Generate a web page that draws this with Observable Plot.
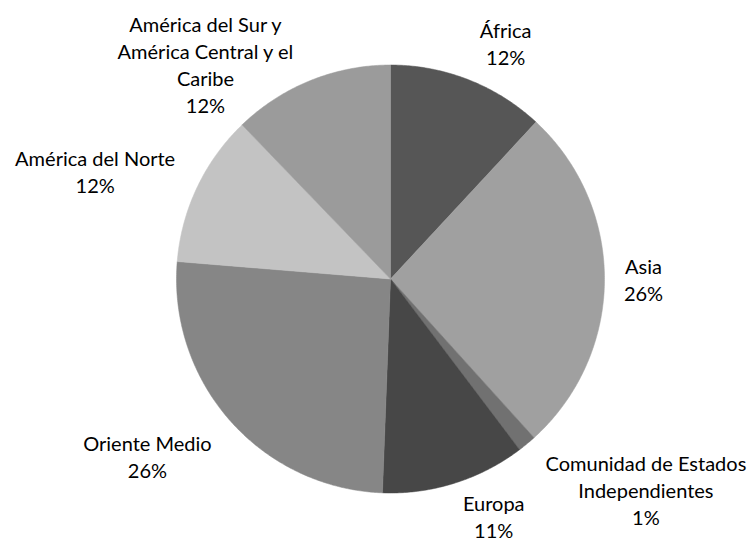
<!DOCTYPE html>
<html>
<head>
<meta charset="utf-8">
<script src="https://cdn.jsdelivr.net/npm/d3@7"></script>
<script src="https://cdn.jsdelivr.net/npm/@observablehq/plot@0.6"></script>
<style>
  html, body { margin: 0; padding: 0; background: #fff; }
  #chart svg { display: block; }
</style>
</head>
<body>
<div id="chart"></div>
<script>
// Data (clockwise from 12 o'clock)
const categories = [
  "África",
  "Asia",
  "Comunidad de Estados\nIndependientes",
  "Europa",
  "Oriente Medio",
  "América del Norte",
  "América del Sur y\nAmérica Central y el\nCaribe"
];
const values = [11.9, 26.4, 1.4, 10.9, 25.7, 11.5, 12.2];
const percentLabels = ["12%", "26%", "1%", "11%", "26%", "12%", "12%"];
const colors = ["#565656", "#a0a0a0", "#717171", "#474747", "#868686", "#c3c3c3", "#9b9b9b"];

// Label layout: pixel offset from slice's outer edge midpoint
const labelOffsets = [[37, -37], [39, -1], [119, 45], [39, 33], [-83, 35], [-102, -16], [-105, -17]];

const W = 751, H = 544;
const cx = 390, cy = 278.5, R = 214;

const total = d3.sum(values);
let acc = 0;
const slices = values.map((v, i) => {
  const a0 = acc / total * 2 * Math.PI;
  acc += v;
  const a1 = acc / total * 2 * Math.PI;
  return {i, a0, a1, mid: (a0 + a1) / 2};
});

// Polygon vertices in unit coordinates (y up)
const poly = [];
for (const s of slices) {
  poly.push({k: s.i, x: 0, y: 0, c: colors[s.i]});
  const n = Math.max(2, Math.ceil((s.a1 - s.a0) / (Math.PI / 360)));
  for (let j = 0; j <= n; j++) {
    const a = s.a0 + (s.a1 - s.a0) * j / n;
    poly.push({k: s.i, x: Math.sin(a), y: Math.cos(a), c: colors[s.i]});
  }
  poly.push({k: s.i, x: 0, y: 0, c: colors[s.i]});
}

const labels = slices.map(s => ({
  x: Math.sin(s.mid), y: Math.cos(s.mid),
  dx: labelOffsets[s.i][0], dy: labelOffsets[s.i][1],
  text: categories[s.i] + "\n" + percentLabels[s.i]
}));

const textMarks = labels.map(l => Plot.text([l], {
  x: "x", y: "y", text: "text", dx: l.dx, dy: l.dy,
  fontSize: 20, lineHeight: 1.35, fill: "#000",
  fontFamily: "Lato, 'Open Sans', sans-serif", textAnchor: "middle"
}));

const chart = Plot.plot({
  width: W, height: H,
  marginLeft: cx - R, marginRight: W - (cx + R),
  marginTop: cy - R, marginBottom: H - (cy + R),
  x: {domain: [-1, 1], axis: null},
  y: {domain: [-1, 1], axis: null},
  color: {type: "identity"},
  style: {background: "#fff", overflow: "visible"},
  marks: [
    Plot.line(poly, {x: "x", y: "y", z: "k", fill: "c", stroke: "c", strokeWidth: 0.5, curve: "linear-closed"}),
    ...textMarks
  ]
});
document.getElementById("chart").appendChild(chart);
</script>
</body>
</html>
